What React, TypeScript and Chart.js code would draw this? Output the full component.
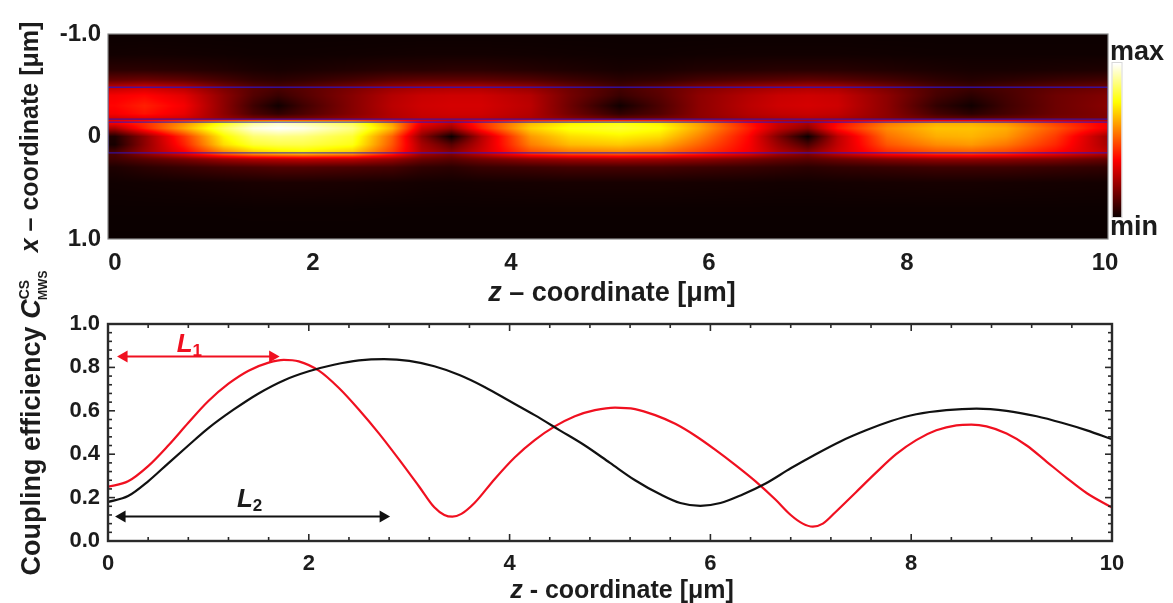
import React, { useEffect, useRef } from "react";
import { Chart, registerables } from "chart.js";

Chart.register(...registerables);

// ---------- data: upper map ----------
const zCols = [0, 0.3, 0.7, 1.1, 1.4, 1.65, 1.9, 2.4, 2.8, 3.1, 3.4, 3.7, 4.2, 4.6, 5.1, 5.5, 5.9, 6.4, 6.7, 7.0, 7.3, 7.8, 8.3, 8.65, 9, 9.5, 10];
const xRows = [-1, -0.8, -0.65, -0.55, -0.48, -0.4, -0.3, -0.22, -0.17, -0.14, -0.08, 0, 0.08, 0.16, 0.22, 0.3, 0.45, 0.7, 1];
const field = [
  [.003,.003,.003,.003,.003,.003,.003,.003,.003,.003,.003,.003,.003,.003,.003,.003,.003,.003,.003,.003,.003,.003,.003,.003,.003,.003,.003],
  [.012,.014,.012,.01,.008,.008,.008,.01,.012,.014,.014,.014,.012,.01,.008,.008,.01,.012,.012,.012,.012,.01,.008,.008,.008,.008,.008],
  [.05,.05,.045,.035,.025,.02,.025,.035,.045,.045,.05,.05,.04,.03,.02,.025,.035,.04,.045,.045,.045,.035,.025,.02,.02,.025,.03],
  [.14,.15,.13,.09,.06,.05,.06,.09,.12,.13,.13,.13,.11,.08,.05,.06,.09,.11,.12,.13,.12,.09,.055,.04,.05,.07,.085],
  [.28,.3,.26,.17,.12,.1,.12,.17,.22,.24,.25,.25,.21,.15,.09,.13,.18,.22,.24,.25,.24,.17,.1,.08,.1,.13,.15],
  [.36,.38,.33,.2,.11,.07,.11,.19,.26,.29,.3,.3,.26,.16,.07,.12,.2,.26,.29,.3,.29,.2,.09,.05,.09,.15,.18],
  [.38,.42,.36,.2,.08,.01,.08,.19,.27,.3,.31,.31,.27,.15,.01,.1,.2,.27,.3,.31,.3,.2,.06,.01,.08,.15,.19],
  [.36,.4,.34,.2,.1,.06,.1,.19,.26,.29,.3,.3,.26,.16,.06,.11,.2,.26,.28,.29,.28,.2,.09,.05,.09,.15,.18],
  [.3,.32,.3,.22,.18,.17,.18,.22,.26,.28,.28,.28,.25,.2,.15,.17,.2,.24,.25,.26,.25,.2,.15,.14,.15,.17,.18],
  [.38,.44,.58,.76,.88,.93,.9,.82,.6,.36,.3,.44,.64,.72,.76,.72,.6,.4,.3,.26,.38,.54,.62,.62,.58,.46,.36],
  [.25,.42,.62,.84,.97,1,.98,.88,.64,.3,.22,.42,.68,.77,.8,.76,.62,.42,.28,.2,.4,.58,.66,.66,.63,.5,.36],
  [.03,.2,.45,.74,.86,.88,.87,.8,.52,.2,0,.26,.6,.7,.73,.7,.57,.38,.18,0,.27,.54,.63,.64,.6,.46,.24],
  [.02,.2,.42,.7,.8,.82,.82,.77,.5,.24,.12,.28,.56,.65,.67,.63,.52,.37,.22,.1,.28,.5,.58,.6,.55,.43,.25],
  [.1,.22,.36,.56,.66,.7,.72,.66,.46,.26,.2,.3,.48,.54,.56,.54,.46,.36,.26,.2,.3,.43,.49,.5,.47,.38,.28],
  [.08,.12,.17,.23,.26,.27,.28,.27,.22,.15,.12,.16,.21,.23,.24,.23,.21,.17,.14,.12,.15,.19,.21,.21,.2,.18,.14],
  [.03,.05,.07,.09,.1,.11,.11,.1,.09,.06,.05,.07,.08,.09,.09,.09,.08,.07,.06,.05,.06,.07,.08,.08,.08,.07,.06],
  [.01,.012,.015,.02,.024,.026,.026,.024,.02,.016,.014,.016,.018,.02,.02,.02,.018,.016,.014,.014,.016,.018,.02,.02,.018,.016,.014],
  [.003,.003,.003,.003,.004,.004,.004,.004,.003,.003,.003,.003,.003,.003,.003,.003,.003,.003,.003,.003,.003,.003,.003,.003,.003,.003,.003],
  [0,0,0,0,0,0,0,0,0,0,0,0,0,0,0,0,0,0,0,0,0,0,0,0,0,0,0],
];
const upperBox = [{ x: -0.07, y: -0.48 }, { x: 10.03, y: -0.48 }, { x: 10.03, y: -0.17 }, { x: -0.07, y: -0.17 }, { x: -0.07, y: -0.48 }];
const lowerBox = [{ x: -0.07, y: -0.14 }, { x: 10.03, y: -0.14 }, { x: 10.03, y: 0.16 }, { x: -0.07, y: 0.16 }, { x: -0.07, y: -0.14 }];
const mapZTicks = [0, 2, 4, 6, 8, 10];
const mapXTicks = [-1, 0, 1];
const mapXLabels = ["-1.0", "0", "1.0"];

// ---------- data: lower curves ----------
const redZ = [0, 0.2, 0.4, 0.6, 0.8, 1.0, 1.2, 1.4, 1.6, 1.75, 1.9, 2.1, 2.3, 2.5, 2.7, 2.9, 3.1, 3.25, 3.35, 3.43, 3.52, 3.65, 3.85, 4.05, 4.25, 4.45, 4.65, 4.85, 5.05, 5.25, 5.45, 5.65, 5.85, 6.05, 6.25, 6.45, 6.65, 6.8, 6.92, 7.02, 7.12, 7.25, 7.45, 7.65, 7.85, 8.05, 8.25, 8.45, 8.6, 8.75, 8.95, 9.15, 9.35, 9.55, 9.75, 10];
const redC = [0.25, 0.275, 0.345, 0.44, 0.545, 0.645, 0.725, 0.785, 0.822, 0.835, 0.828, 0.785, 0.705, 0.605, 0.495, 0.375, 0.25, 0.155, 0.12, 0.112, 0.125, 0.175, 0.285, 0.385, 0.465, 0.528, 0.575, 0.603, 0.615, 0.608, 0.58, 0.54, 0.485, 0.42, 0.35, 0.275, 0.19, 0.12, 0.08, 0.066, 0.08, 0.135, 0.225, 0.315, 0.4, 0.465, 0.51, 0.533, 0.536, 0.528, 0.495, 0.44, 0.365, 0.29, 0.22, 0.154];
const blackZ = [0, 0.2, 0.4, 0.6, 0.8, 1.0, 1.25, 1.5, 1.75, 2.0, 2.25, 2.5, 2.75, 3.0, 3.25, 3.5, 3.75, 4.0, 4.25, 4.5, 4.75, 5.0, 5.25, 5.5, 5.7, 5.9, 6.1, 6.3, 6.55, 6.8, 7.05, 7.3, 7.55, 7.8, 8.05, 8.35, 8.65, 8.95, 9.25, 9.5, 9.75, 10];
const blackC = [0.18, 0.207, 0.275, 0.358, 0.44, 0.52, 0.605, 0.68, 0.74, 0.782, 0.812, 0.832, 0.838, 0.83, 0.805, 0.765, 0.71, 0.645, 0.58, 0.51, 0.44, 0.36, 0.28, 0.215, 0.175, 0.162, 0.175, 0.21, 0.265, 0.335, 0.4, 0.46, 0.51, 0.553, 0.584, 0.603, 0.61, 0.6, 0.575, 0.545, 0.51, 0.469];
const l1Span = [{ x: 0.16, y: 0.85 }, { x: 1.64, y: 0.85 }];
const l2Span = [{ x: 0.14, y: 0.113 }, { x: 2.74, y: 0.113 }];
const curveZMajor = [0, 2, 4, 6, 8, 10];
const curveZMinor = [0.4, 0.8, 1.2, 1.6, 2.4, 2.8, 3.2, 3.6, 4.4, 4.8, 5.2, 5.6, 6.4, 6.8, 7.2, 7.6, 8.4, 8.8, 9.2, 9.6];
const curveCMajor = [0, 0.2, 0.4, 0.6, 0.8, 1];
const curveCMinor = [0.04, 0.08, 0.12, 0.16, 0.24, 0.28, 0.32, 0.36, 0.44, 0.48, 0.52, 0.56, 0.64, 0.68, 0.72, 0.76, 0.84, 0.88, 0.92, 0.96];

const FONT = '"Liberation Sans", Arial, sans-serif';
const INK = "#1c1c1c";
const RED = "#f01020";

type Run = { t: string; size: number; italic?: boolean; dy?: number; back?: number };

function drawRuns(ctx: CanvasRenderingContext2D, runs: Run[], x: number, y: number, angle: number, color: string) {
  ctx.save();
  ctx.translate(x, y);
  ctx.rotate(angle);
  ctx.textBaseline = "alphabetic";
  ctx.textAlign = "left";
  ctx.fillStyle = color;
  const fontOf = (r: Run) => `${r.italic ? "italic " : ""}bold ${r.size}px ${FONT}`;
  let total = 0;
  for (const r of runs) {
    ctx.font = fontOf(r);
    total += ctx.measureText(r.t).width - (r.back ?? 0);
  }
  let cur = -total / 2;
  for (const r of runs) {
    ctx.font = fontOf(r);
    ctx.fillText(r.t, cur - (r.back ?? 0), r.dy ?? 0);
    cur += ctx.measureText(r.t).width - (r.back ?? 0);
  }
  ctx.restore();
}

function hot(v: number): [number, number, number] {
  const c = Math.max(0, Math.min(1, v));
  const r = 10 + 245 * Math.min(1, c / 0.375);
  const g = 255 * Math.max(0, Math.min(1, (c - 0.375) / 0.375));
  const b = 255 * Math.max(0, Math.min(1, (c - 0.75) / 0.25));
  return [r, g, b];
}

function bracket(list: number[], v: number): [number, number] {
  let i = 0;
  while (i < list.length - 2 && list[i + 1] < v) i++;
  const t = Math.max(0, Math.min(1, (v - list[i]) / (list[i + 1] - list[i])));
  return [i, t];
}

const heatPlugin = {
  id: "heat",
  beforeDatasetsDraw(chart: any) {
    const { ctx, chartArea: a, scales } = chart;
    const w = Math.round(a.right - a.left);
    const h = Math.round(a.bottom - a.top);
    const off = document.createElement("canvas");
    off.width = w;
    off.height = h;
    const o = off.getContext("2d")!;
    const img = o.createImageData(w, h);
    for (let py = 0; py < h; py++) {
      const [ri, rt] = bracket(xRows, scales.y.getValueForPixel(a.top + py + 0.5));
      for (let px = 0; px < w; px++) {
        const [ci, ct] = bracket(zCols, scales.x.getValueForPixel(a.left + px + 0.5));
        const top = field[ri][ci] * (1 - ct) + field[ri][ci + 1] * ct;
        const bot = field[ri + 1][ci] * (1 - ct) + field[ri + 1][ci + 1] * ct;
        const [r, g, b] = hot(top * (1 - rt) + bot * rt);
        const k = (py * w + px) * 4;
        img.data[k] = r;
        img.data[k + 1] = g;
        img.data[k + 2] = b;
        img.data[k + 3] = 255;
      }
    }
    o.putImageData(img, 0, 0);
    ctx.drawImage(off, a.left, a.top);
  },
  afterDraw(chart: any) {
    const { ctx, chartArea: a } = chart;
    ctx.save();
    ctx.strokeStyle = "#8a8a8a";
    ctx.lineWidth = 1.2;
    ctx.strokeRect(a.left, a.top, a.right - a.left, a.bottom - a.top);
    // colour bar
    const bx = a.right + 4.5;
    const bw = 9;
    const bt = 63;
    const bb = 217;
    for (let y = bt; y < bb; y++) {
      const [r, g, b] = hot((bb - y) / (bb - bt));
      ctx.fillStyle = `rgb(${r},${g},${b})`;
      ctx.fillRect(bx, y, bw, 1);
    }
    ctx.strokeStyle = "#d8d8d8";
    ctx.lineWidth = 1;
    ctx.strokeRect(bx - 0.5, bt - 0.5, bw + 1, bb - bt + 1);
    ctx.fillStyle = INK;
    ctx.font = `bold 27px ${FONT}`;
    ctx.textAlign = "left";
    ctx.textBaseline = "alphabetic";
    ctx.fillText("max", a.right + 2, 60);
    ctx.fillText("min", a.right + 2, 235);
    ctx.restore();
    drawRuns(ctx, [{ t: "z", size: 27, italic: true }, { t: " – coordinate [μm]", size: 27 }], 612, 301, 0, INK);
    drawRuns(ctx, [{ t: "x", size: 25, italic: true }, { t: " – coordinate [μm]", size: 25 }], 38, 137, -Math.PI / 2, INK);
  },
};

const curvePlugin = {
  id: "frame",
  afterDraw(chart: any) {
    const { ctx, chartArea: a, scales } = chart;
    const X = scales.x;
    const Y = scales.y;
    ctx.save();
    ctx.strokeStyle = "#2a2a2a";
    ctx.lineWidth = 1.6;
    const seg = (x1: number, y1: number, x2: number, y2: number) => {
      ctx.beginPath();
      ctx.moveTo(x1, y1);
      ctx.lineTo(x2, y2);
      ctx.stroke();
    };
    for (const [vals, len] of [[curveZMajor, 7], [curveZMinor, 4]] as [number[], number][]) {
      for (const v of vals) {
        const p = X.getPixelForValue(v);
        seg(p, a.bottom, p, a.bottom - len);
        seg(p, a.top, p, a.top + len);
      }
    }
    for (const [vals, len] of [[curveCMajor, 7], [curveCMinor, 4]] as [number[], number][]) {
      for (const v of vals) {
        const p = Y.getPixelForValue(v);
        seg(a.left, p, a.left + len, p);
        seg(a.right, p, a.right - len, p);
      }
    }
    ctx.lineWidth = 2.4;
    ctx.strokeRect(a.left, a.top, a.right - a.left, a.bottom - a.top);
    ctx.restore();
    drawRuns(ctx, [{ t: "L", size: 26, italic: true }, { t: "1", size: 17, dy: 4 }], X.getPixelForValue(0.81), Y.getPixelForValue(0.87), 0, RED);
    drawRuns(ctx, [{ t: "L", size: 26, italic: true }, { t: "2", size: 17, dy: 4 }], X.getPixelForValue(1.41), Y.getPixelForValue(0.155), 0, INK);
    drawRuns(ctx, [{ t: "z", size: 25, italic: true }, { t: " - coordinate [μm]", size: 25 }], 622, chart.height - 5, 0, INK);
    drawRuns(ctx, [{ t: "Coupling efficiency ", size: 27 }, { t: "C", size: 27, italic: true }, { t: "CS", size: 14, dy: -11 }, { t: "MWS", size: 12, dy: 7, back: 20 }], 40, 163, -Math.PI / 2, INK);
  },
};

function fixedBox(size: number, horizontal: boolean) {
  return (s: any) => {
    if (horizontal) s.height = size;
    else s.width = size;
  };
}

export default function App() {
  const topRef = useRef<HTMLCanvasElement>(null);
  const botRef = useRef<HTMLCanvasElement>(null);

  useEffect(() => {
    const mapFont = { family: FONT, weight: "bold" as const, size: 24 };
    const curveFont = { family: FONT, weight: "bold" as const, size: 22 };
    const mapChart = new Chart(topRef.current!, {
      type: "scatter",
      data: {
        datasets: [upperBox, lowerBox].map((d) => ({
          data: d,
          showLine: true,
          borderColor: "rgba(45,20,190,0.8)",
          borderWidth: 1.4,
          pointRadius: 0,
        })),
      },
      options: {
        animation: false,
        responsive: false,
        layout: { padding: { top: 34, right: 65, left: 0, bottom: 0 } },
        plugins: { legend: { display: false }, tooltip: { enabled: false } },
        scales: {
          x: {
            type: "linear",
            min: -0.07,
            max: 10.03,
            grid: { display: false },
            border: { display: false },
            afterBuildTicks: (s: any) => { s.ticks = mapZTicks.map((value) => ({ value })); },
            afterFit: fixedBox(71, true),
            ticks: { font: mapFont, color: INK, padding: 2, maxRotation: 0, autoSkip: false, callback: (v: any) => String(v) },
          },
          y: {
            type: "linear",
            reverse: true,
            min: -1,
            max: 1,
            grid: { display: false },
            border: { display: false },
            afterBuildTicks: (s: any) => { s.ticks = mapXTicks.map((value) => ({ value })); },
            afterFit: fixedBox(108, false),
            ticks: { font: mapFont, color: INK, padding: -1, autoSkip: false, callback: (v: any) => mapXLabels[mapXTicks.indexOf(v)] },
          },
        },
      },
      plugins: [heatPlugin],
    } as any);

    const line = (zs: number[], cs: number[], color: string) => ({
      data: zs.map((x, i) => ({ x, y: cs[i] })),
      showLine: true,
      borderColor: color,
      borderWidth: 2.2,
      pointRadius: 0,
      cubicInterpolationMode: "monotone",
    });
    const arrow = (d: { x: number; y: number }[], color: string) => ({
      data: d,
      showLine: true,
      borderColor: color,
      backgroundColor: color,
      borderWidth: 2,
      pointStyle: "triangle",
      pointRadius: 7,
      pointBorderWidth: 0,
      pointRotation: [-90, 90],
    });

    const curveChart = new Chart(botRef.current!, {
      type: "scatter",
      data: {
        datasets: [line(blackZ, blackC, "#111111"), line(redZ, redC, RED), arrow(l1Span, RED), arrow(l2Span, "#111111")],
      },
      options: {
        animation: false,
        responsive: false,
        layout: { padding: { top: 64, right: 61, left: 0, bottom: 0 } },
        plugins: { legend: { display: false }, tooltip: { enabled: false } },
        scales: {
          x: {
            type: "linear",
            min: 0,
            max: 10,
            grid: { display: false },
            border: { display: false },
            afterBuildTicks: (s: any) => { s.ticks = curveZMajor.map((value) => ({ value })); },
            afterFit: fixedBox(62, true),
            ticks: { font: curveFont, color: INK, padding: 2, maxRotation: 0, autoSkip: false },
          },
          y: {
            type: "linear",
            min: 0,
            max: 1,
            grid: { display: false },
            border: { display: false },
            afterBuildTicks: (s: any) => { s.ticks = curveCMajor.map((value) => ({ value })); },
            afterFit: fixedBox(108, false),
            ticks: { font: curveFont, color: INK, padding: 0, autoSkip: false, callback: (v: any) => Number(v).toFixed(1) },
          },
        },
      },
      plugins: [curvePlugin],
    } as any);

    return () => {
      mapChart.destroy();
      curveChart.destroy();
    };
  }, []);

  return (
    <div style={{ position: "fixed", left: 0, top: 0, width: 1173, height: 603, overflow: "hidden", background: "#fff" }}>
      <canvas ref={topRef} width={1173} height={310} style={{ position: "absolute", left: 0, top: 0, filter: "blur(0.5px)" }} />
      <canvas ref={botRef} width={1173} height={343} style={{ position: "absolute", left: 0, top: 260, filter: "blur(0.5px)" }} />
    </div>
  );
}
